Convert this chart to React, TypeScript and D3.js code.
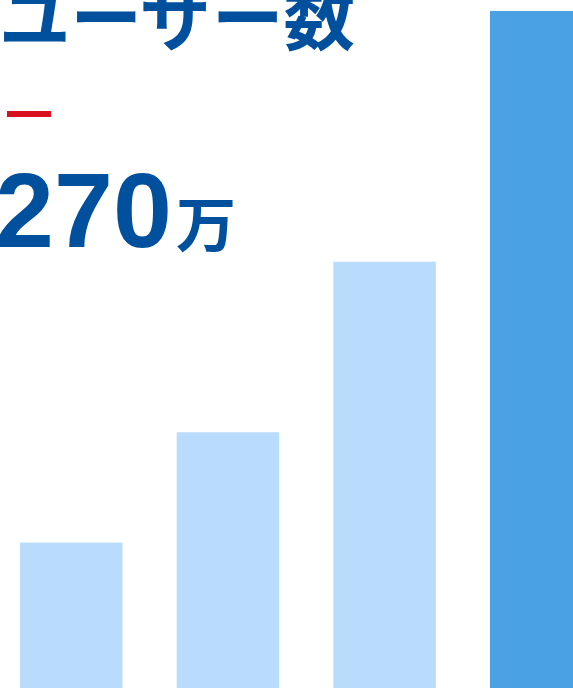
import React from "react";
import * as d3 from "d3";

const W = 573;
const H = 688;

const categories = ["1", "2", "3", "4"];
const values = [58, 102, 170, 270];
const barColors = ["#B9DCFD", "#B9DCFD", "#B9DCFD", "#4AA1E3"];
const titleText = "ユーザー数";
const bigNumber = "270";
const unitText = "万";

export default function App() {
  const x = d3
    .scaleBand<string>()
    .domain(categories)
    .range([20, 592.5])
    .paddingInner(0.3457)
    .paddingOuter(0);
  const y = d3.scaleLinear().domain([0, 270]).range([H, 11]);

  return (
    <svg
      width={W}
      height={H}
      style={{ position: "fixed", left: 0, top: 0, background: "#fff" }}
    >
      {categories.map((c, i) => (
        <rect
          key={c}
          x={x(c)}
          y={y(values[i])}
          width={x.bandwidth()}
          height={H - y(values[i])}
          fill={barColors[i]}
        />
      ))}
      <text
        x={-1}
        y={44}
        fill="#00509E"
        fontFamily="'Noto Sans CJK JP', sans-serif"
        fontWeight={700}
        fontSize={71.5}
      >
        {titleText}
      </text>
      <rect x={7} y={111} width={44} height={6} fill="#D7111E" />
      <text
        y={247}
        fill="#00509E"
        fontWeight={700}
        fontFamily="'Liberation Sans', Arial, sans-serif"
      >
        <tspan x={-5} fontSize={106}>{bigNumber}</tspan>
        <tspan x={176} fontSize={60} fontFamily="'Noto Sans CJK JP', sans-serif">
          {unitText}
        </tspan>
      </text>
    </svg>
  );
}
